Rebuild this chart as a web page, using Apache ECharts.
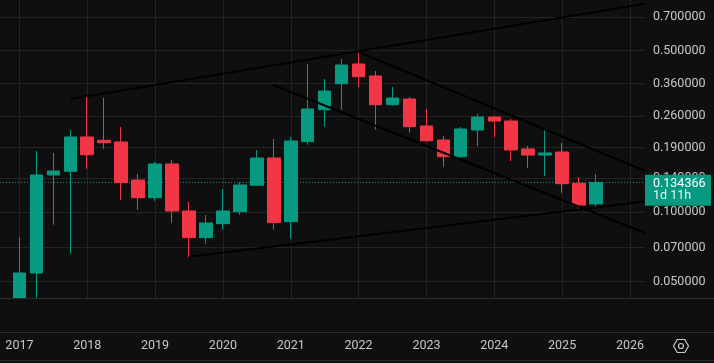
<!DOCTYPE html>
<html>
<head>
<meta charset="utf-8">
<script src="https://cdn.jsdelivr.net/npm/echarts@6/dist/echarts.min.js"></script>
<style>
  html, body { margin: 0; padding: 0; background: #0f0f0f; }
  #chart { width: 714px; height: 363px; }
</style>
</head>
<body>
<div id="chart"></div>
<script>
// ---- data (quarterly candles) ----
const quarters = [
  '2017-Q1','2017-Q2','2017-Q3','2017-Q4',
  '2018-Q1','2018-Q2','2018-Q3','2018-Q4',
  '2019-Q1','2019-Q2','2019-Q3','2019-Q4',
  '2020-Q1','2020-Q2','2020-Q3','2020-Q4',
  '2021-Q1','2021-Q2','2021-Q3','2021-Q4',
  '2022-Q1','2022-Q2','2022-Q3','2022-Q4',
  '2023-Q1','2023-Q2','2023-Q3','2023-Q4',
  '2024-Q1','2024-Q2','2024-Q3','2024-Q4',
  '2025-Q1','2025-Q2','2025-Q3'
];
const opens = [
  0.0400, 0.0544, 0.1446, 0.1500,
  0.2113, 0.2044, 0.2010, 0.1375,
  0.1153, 0.1614, 0.1010, 0.0774,
  0.0890, 0.1003, 0.1306, 0.1713,
  0.0908, 0.2016, 0.2774, 0.3595,
  0.4376, 0.3882, 0.2916, 0.3086,
  0.2358, 0.2050, 0.1736, 0.2265,
  0.2579, 0.2478, 0.1875, 0.1765,
  0.1819, 0.1331, 0.1083
];
const highs = [
  0.0779, 0.1837, 0.1802, 0.2265,
  0.3149, 0.3117, 0.2334, 0.1461,
  0.1646, 0.1679, 0.1105, 0.0970,
  0.1258, 0.1349, 0.1856, 0.2071,
  0.2113, 0.4376, 0.3768, 0.4600,
  0.4933, 0.4080, 0.3478, 0.3149,
  0.2793, 0.2134, 0.2334, 0.2657,
  0.2605, 0.2528, 0.1931, 0.2265,
  0.1990, 0.1417, 0.1461
];
const lows = [
  0.0380, 0.0400, 0.0881, 0.0659,
  0.1540, 0.1880, 0.1130, 0.1023,
  0.1119, 0.0899, 0.0638, 0.0729,
  0.0838, 0.0973, 0.1302, 0.0838,
  0.0766, 0.1957, 0.2341, 0.2774,
  0.3478, 0.2272, 0.2887, 0.2205,
  0.2016, 0.1571, 0.1713, 0.1931,
  0.2113, 0.1663, 0.1551, 0.1432,
  0.1208, 0.1030, 0.1051
];
const closes = [
  0.0544, 0.1446, 0.1505, 0.2113,
  0.1770, 0.1996, 0.1339, 0.1153,
  0.1614, 0.1010, 0.0774, 0.0896,
  0.1010, 0.1309, 0.1713, 0.0899,
  0.2030, 0.2793, 0.3342, 0.4332,
  0.3855, 0.2916, 0.3117, 0.2341,
  0.2036, 0.1736, 0.2288, 0.2579,
  0.2478, 0.1856, 0.1765, 0.1801,
  0.1326, 0.1072, 0.134366
];
// drawn trend lines: [[time, price], [time, price]]
const trendLines = [
  [[2017.75, 0.3086], [2026.25, 0.800]],
  [[2022.00, 0.4933], [2026.25, 0.1496]],
  [[2020.74, 0.3548], [2026.25, 0.0806]],
  [[2019.50, 0.0640], [2026.25, 0.1114]]
];
const yearTicks = [2017, 2018, 2019, 2020, 2021, 2022, 2023, 2024, 2025, 2026];
const priceTicks = [0.05, 0.07, 0.10, 0.14, 0.19, 0.26, 0.36, 0.50, 0.70];
const lastPrice = 0.134366;
const countdown = '1d 11h';

// ---- build ----
const UP = '#089981', DOWN = '#f23645';
const X_MIN = 2016.714, X_MAX = 2026.207;
const toTime = q => { const [y, qq] = q.split('-Q'); return +y + (+qq - 1) / 4; };
const candleData = quarters.map((q, i) => [toTime(q), opens[i], closes[i], lows[i], highs[i]]);

const chart = echarts.init(document.getElementById('chart'), null, { renderer: 'canvas' });
const FONT = 'Roboto, "Noto Sans", sans-serif';
const gridColor = '#242424';
const textColor = '#c8c8c8';

const series = [
  {
    type: 'line', z: 1, silent: true, symbol: 'none',
    data: [[X_MIN, lastPrice], [X_MAX, lastPrice]],
    lineStyle: { color: UP, type: [1, 2], width: 1 }
  },
  {
    type: 'candlestick',
    data: candleData,
    encode: { x: 0, y: [1, 2, 3, 4] },
    barWidth: 13,
    clip: true,
    z: 3,
    itemStyle: { color: UP, color0: DOWN, borderColor: UP, borderColor0: DOWN, borderWidth: 1 }
  }
];
trendLines.forEach(seg => series.push({
  type: 'line', data: seg, z: 5, symbol: 'none', silent: true, clip: true,
  lineStyle: { color: '#000000', width: 2 }
}));

chart.setOption({
  backgroundColor: '#0f0f0f',
  animation: false,
  grid: { left: 0, right: 70, top: 0, bottom: 65, containLabel: false, outerBoundsMode: 'none' },
  xAxis: {
    type: 'value', min: X_MIN, max: X_MAX,
    axisLine: { show: false },
    axisTick: { show: false, customValues: yearTicks },
    axisLabel: { customValues: yearTicks, formatter: v => String(v), color: textColor,
                 fontSize: 12.5, fontFamily: FONT, margin: 41 },
    splitLine: { show: true, lineStyle: { color: gridColor, width: 1 } }
  },
  yAxis: {
    type: 'log', logBase: 10, position: 'right', min: 0.0424, max: 0.8285,
    axisLine: { show: false },
    axisTick: { show: false, customValues: priceTicks },
    axisLabel: { customValues: priceTicks, formatter: v => Number(v).toFixed(6), color: textColor,
                 fontSize: 12.5, fontFamily: FONT, margin: 9, align: 'left' },
    splitLine: { show: true, lineStyle: { color: gridColor, width: 1 } }
  },
  series: series
});

// price tag + chrome
const py = chart.convertToPixel({ yAxisIndex: 0 }, lastPrice);
const sep = '#2e2e2e';
const hex = [];
for (let k = 0; k < 6; k++) { const a = Math.PI / 3 * k; hex.push([681 + 7.5 * Math.cos(a), 346 + 7.5 * Math.sin(a)]); }
chart.setOption({
  graphic: [
    { type: 'rect', shape: { x: 0, y: 298.5, width: 645, height: 34 }, style: { fill: '#0f0f0f' }, z: 100, silent: true },
    { type: 'line', shape: { x1: 0, y1: 298.5, x2: 714, y2: 298.5 }, style: { stroke: sep, lineWidth: 1 }, z: 101, silent: true },
    { type: 'line', shape: { x1: 0, y1: 332.5, x2: 714, y2: 332.5 }, style: { stroke: sep, lineWidth: 1 }, z: 101, silent: true },
    { type: 'line', shape: { x1: 0, y1: 360.5, x2: 714, y2: 360.5 }, style: { stroke: sep, lineWidth: 1 }, z: 101, silent: true },
    { type: 'rect', shape: { x: 645, y: py - 7.5, width: 66, height: 31 }, style: { fill: UP }, z: 110, silent: true },
    { type: 'text', x: 653, y: py + 1.5, z: 111, silent: true,
      style: { text: lastPrice.toFixed(6), fill: '#ffffff', font: '12.5px ' + FONT, verticalAlign: 'middle', align: 'left' } },
    { type: 'text', x: 653, y: py + 14, z: 111, silent: true,
      style: { text: countdown, fill: '#eaf6f3', font: '12.5px ' + FONT, verticalAlign: 'middle', align: 'left' } },
    { type: 'polygon', shape: { points: hex }, style: { fill: 'none', stroke: textColor, lineWidth: 1.2 }, z: 101, silent: true },
    { type: 'circle', shape: { cx: 681, cy: 346, r: 2.5 }, style: { fill: 'none', stroke: textColor, lineWidth: 1.2 }, z: 101, silent: true }
  ]
});
</script>
</body>
</html>
